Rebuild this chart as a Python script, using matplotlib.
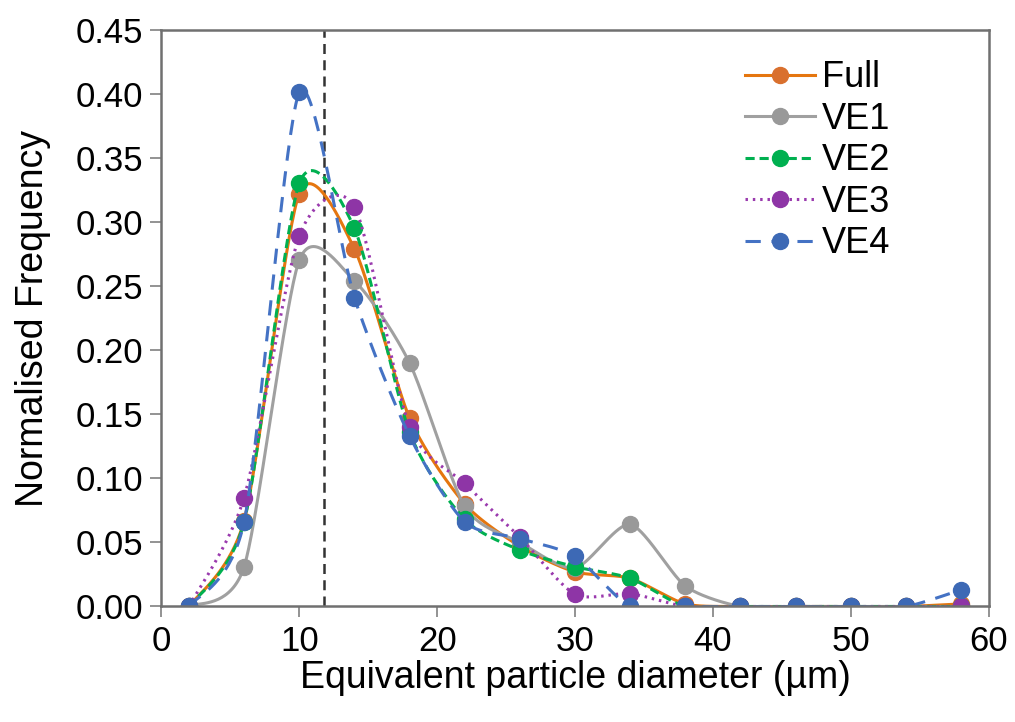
import numpy as np
import matplotlib
matplotlib.use('Agg')
import matplotlib.pyplot as plt

plt.rcParams['font.family'] = ['Liberation Sans', 'DejaVu Sans']

# equivalent particle diameter bins (um)
diameter = [2, 6, 10, 14, 18, 22, 26, 30, 34, 38, 42, 46, 50, 54, 58]

full = [0, 0.067, 0.322, 0.279, 0.147, 0.080, 0.047, 0.027, 0.022, 0.002, 0, 0, 0, 0, 0.002]
ve1 = [0, 0.031, 0.270, 0.254, 0.190, 0.078, 0.050, 0.030, 0.064, 0.016, 0, 0, 0, 0, 0]
ve2 = [0, 0.066, 0.330, 0.295, 0.136, 0.068, 0.044, 0.031, 0.022, 0, 0, 0, 0, 0, 0]
ve3 = [0, 0.085, 0.289, 0.312, 0.140, 0.096, 0.054, 0.0095, 0.010, 0, 0, 0, 0, 0, 0]
ve4 = [0, 0.066, 0.401, 0.241, 0.133, 0.066, 0.053, 0.039, 0, 0, 0, 0, 0, 0, 0.013]

mean_diameter = 11.8

series = [
    ("Full", full, '#E5760F', '#D9702E', '-'),
    ("VE1", ve1, '#A0A0A0', '#999999', '-'),
    ("VE2", ve2, '#00B050', '#00B050', (0, (3, 1.6))),
    ("VE3", ve3, '#9A3AAE', '#8E35A6', (0, (0.8, 1.6))),
    ("VE4", ve4, '#4472C4', '#3D69B5', (0, (5, 3.5))),
]


def smooth(x, y, n=40, k=8.0):
    # Excel-like smoothed line: cubic bezier with catmull-rom style tangents
    x = np.asarray(x, float)
    y = np.asarray(y, float)
    px = np.concatenate([[x[0]], x, [x[-1]]])
    py = np.concatenate([[y[0]], y, [y[-1]]])
    t = np.linspace(0, 1, n)
    xs, ys = [], []
    for i in range(1, len(px) - 2):
        p0 = np.array([px[i - 1], py[i - 1]])
        p1 = np.array([px[i], py[i]])
        p2 = np.array([px[i + 1], py[i + 1]])
        p3 = np.array([px[i + 2], py[i + 2]])
        c1 = p1 + (p2 - p0) / k
        c2 = p2 - (p3 - p1) / k
        b = ((1 - t) ** 3)[:, None] * p1 + (3 * (1 - t) ** 2 * t)[:, None] * c1 \
            + (3 * (1 - t) * t ** 2)[:, None] * c2 + (t ** 3)[:, None] * p2
        xs.append(b[:, 0])
        ys.append(b[:, 1])
    return np.concatenate(xs), np.concatenate(ys)


fig = plt.figure(figsize=(10.15, 7.22), dpi=100)
ax = fig.add_axes([0.159, 0.160, 0.815, 0.799])

for name, vals, lc, mc, ls in series:
    sx, sy = smooth(diameter, vals)
    ax.plot(sx, sy, color=lc, lw=2.2, ls=ls)
    ax.plot(diameter, vals, 'o', color=mc, ms=11.5, mec=mc)
    ax.plot([], [], color=lc, lw=2.2, ls=ls, marker='o', ms=11.5, mfc=mc, mec=mc, label=name)

ax.axvline(mean_diameter, color='#333333', lw=1.8, ls=(0, (4, 2.5)), zorder=0)

ax.set_xlim(0, 60)
ax.set_ylim(0, 0.45)
ax.set_xticks(np.arange(0, 61, 10))
ax.set_yticks(np.arange(0, 0.451, 0.05))
ax.set_yticklabels([f"{v:.2f}" for v in np.arange(0, 0.451, 0.05)])
ax.tick_params(labelsize=25, length=8, width=1.2, color='#808080', direction='out', pad=5)
for sp in ax.spines.values():
    sp.set_color('#707070')
    sp.set_linewidth(1.8)

ax.set_xlabel("Equivalent particle diameter (µm)", fontsize=27, labelpad=2)
ax.set_ylabel("Normalised Frequency", fontsize=27, labelpad=18)

ax.legend(loc='upper left', bbox_to_anchor=(0.705, 0.947), frameon=False, fontsize=26,
          handlelength=1.95, handletextpad=0.2, labelspacing=0.18,
          borderpad=0, borderaxespad=0)

fig.savefig('out.png', dpi=100)
